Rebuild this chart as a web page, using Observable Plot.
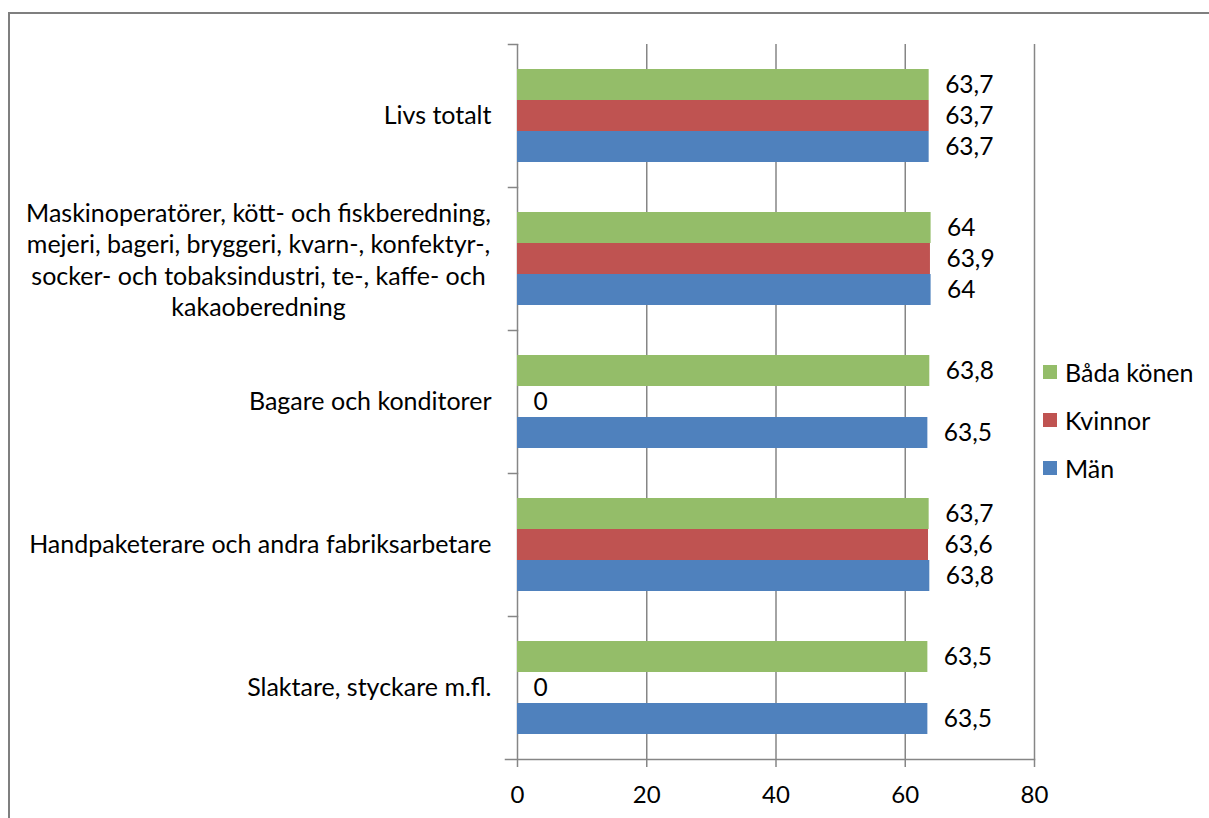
<!DOCTYPE html>
<html><head><meta charset="utf-8">
<script src="https://cdn.jsdelivr.net/npm/d3@7"></script>
<script src="https://cdn.jsdelivr.net/npm/@observablehq/plot@0.6"></script>
<style>
html,body{margin:0;padding:0;background:#fff;}
#wrap{position:relative;width:1209px;height:818px;overflow:hidden;font-family:Lato, "Open Sans", sans-serif;color:#000;}
#border{position:absolute;left:8px;top:12px;width:1400px;height:1000px;border-top:2px solid #7f7f7f;border-left:2px solid #7f7f7f;}
#chart{position:absolute;left:0;top:0;}
#legend{position:absolute;left:1043px;top:348px;}
.row{height:48px;display:flex;align-items:center;font-size:25px;line-height:1;}
.sw{width:14px;height:14px;margin-right:8px;}
</style></head>
<body><div id="wrap"><div id="border"></div><div id="chart"></div><div id="legend"></div></div>
<script>
const categories = ["Livs totalt", "Maskinoperatörer", "Bagare och konditorer", "Handpaketerare och andra fabriksarbetare", "Slaktare, styckare m.fl."];
const categoryLabels = ["Livs totalt", "Maskinoperatörer, kött- och fiskberedning,\nmejeri, bageri, bryggeri, kvarn-, konfektyr-,\nsocker- och tobaksindustri, te-, kaffe- och\nkakaoberedning", "Bagare och konditorer", "Handpaketerare och andra fabriksarbetare", "Slaktare, styckare m.fl."];
const series = ["Båda könen", "Kvinnor", "Män"];
const colors = ["#94BD69", "#BF5351", "#4F81BD"];
const badaKonen = [63.7, 64, 63.8, 63.7, 63.5];
const kvinnor = [63.7, 63.9, 0, 63.6, 0];
const man = [63.7, 64, 63.5, 63.8, 63.5];
const xTicks = [0, 20, 40, 60, 80];

const seriesValues = [badaKonen, kvinnor, man];
const rows = categories.flatMap((c, i) => series.map((s, j) => ({cat: c, series: s, value: seriesValues[j][i]})));
const labelOf = Object.fromEntries(categories.map((c, i) => [c, categoryLabels[i]]));
const fmt = v => String(v).replace(".", ",");
const gray = "#868686";
const W = 1209, H = 818, mL = 517, mR = 175, mT = 42, mB = 58;
const multi = categories.filter(c => labelOf[c].includes("\n"));
const single = categories.filter(c => !labelOf[c].includes("\n"));

const chart = Plot.plot({
  width: W, height: H,
  marginLeft: mL, marginRight: mR, marginTop: mT, marginBottom: mB,
  style: {fontFamily: "Lato, 'Open Sans', sans-serif", fontSize: "24px", color: "#000", background: "transparent", overflow: "visible"},
  x: {domain: [0, 80], axis: null, label: null},
  y: {domain: series, paddingInner: 0, paddingOuter: 0.77, axis: null},
  fy: {domain: categories, padding: 0, axis: null},
  color: {domain: series, range: colors},
  marks: [
    Plot.ruleX(xTicks, {stroke: gray, strokeWidth: 1.5, strokeOpacity: 1}),
    Plot.frame({anchor: "top", insetLeft: -9, insetRight: W - mL - mR, stroke: gray, strokeWidth: 1.5}),
    Plot.frame({anchor: "bottom", facetAnchor: "bottom", insetLeft: -12, stroke: gray, strokeWidth: 1.5}),
    Plot.barX(rows, {fy: "cat", y: "series", x: "value", fill: "series"}),
    Plot.text(rows, {fy: "cat", y: "series", x: "value", text: d => fmt(d.value), textAnchor: "start", dx: 16, fontSize: 24.5, fill: "#000"}),
    Plot.text(single, {fy: d => d, text: d => labelOf[d], frameAnchor: "left", textAnchor: "end", dx: -26, fontSize: 25, fill: "#000"}),
    Plot.text(multi, {fy: d => d, text: d => labelOf[d], frameAnchor: "left", textAnchor: "middle", dx: -259, lineHeight: 1.26, fontSize: 25, fill: "#000"}),
    Plot.axisX(xTicks, {tickSize: 8, tickPadding: 18, stroke: gray, strokeWidth: 1.5, fontSize: 24, label: null, tickFormat: d => String(d)})
  ]
});
document.getElementById("chart").appendChild(chart);

const legend = document.getElementById("legend");
series.forEach((s, j) => {
  const r = document.createElement("div");
  r.className = "row";
  const sw = document.createElement("div");
  sw.className = "sw";
  sw.style.background = colors[j];
  const t = document.createElement("span");
  t.textContent = s;
  r.appendChild(sw); r.appendChild(t);
  legend.appendChild(r);
});
</script>
</body></html>
